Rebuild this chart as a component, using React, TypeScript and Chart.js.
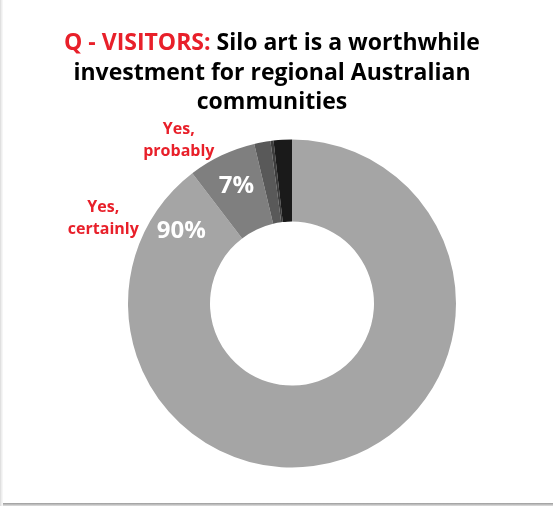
import React, { useEffect, useRef } from "react";
import { Chart, registerables } from "chart.js";

Chart.register(...registerables);

const categories = ["Yes, certainly", "Yes, probably", "Not sure", "No, probably not", "No, certainly not"];
const values = [89.6, 6.7, 1.6, 0.3, 1.8];
const valueLabels = ["90%", "7%", "", "", ""];
const colors = ["#a5a5a5", "#7f7f7f", "#595959", "#3d3d3d", "#1a1a1a"];
const titleRed = "Q - VISITORS:";
const titleLines = [" Silo art is a worthwhile", "investment for regional Australian", "communities"];

const RED = "#e8202a";
const FONT = "'Open Sans', 'Noto Sans', sans-serif";

// label placement relative to arcs: anchor, angle offset (deg, canvas direction), radius as fraction of outer radius
const valueLabelPlace = [
  { anchor: "end", dAngle: -19.5, r: 0.805 },
  { anchor: "mid", dAngle: 0, r: 0.79 },
];
const categoryLabelPlace = [
  { anchor: "end", dAngle: -28.3, r: 1.262 },
  { anchor: "mid", dAngle: -9.4, r: 1.21 },
];

const labelPlugin = {
  id: "customLabels",
  afterDatasetsDraw(chart: any) {
    const ctx = chart.ctx;
    const meta = chart.getDatasetMeta(0);
    const place = (arc: any, p: any) => {
      const base = p.anchor === "end" ? arc.endAngle : (arc.startAngle + arc.endAngle) / 2;
      const a = base + (p.dAngle * Math.PI) / 180;
      const r = arc.outerRadius * p.r;
      return { x: arc.x + r * Math.cos(a), y: arc.y + r * Math.sin(a) };
    };
    ctx.save();
    ctx.textAlign = "center";
    ctx.textBaseline = "middle";
    valueLabelPlace.forEach((p, i) => {
      const arc = meta.data[i];
      if (!arc || !valueLabels[i]) return;
      const pos = place(arc, p);
      ctx.font = `bold 24px ${FONT}`;
      ctx.fillStyle = "#ffffff";
      ctx.fillText(valueLabels[i], pos.x, pos.y);
    });
    categoryLabelPlace.forEach((p, i) => {
      const arc = meta.data[i];
      if (!arc) return;
      const pos = place(arc, p);
      ctx.font = `bold 16px ${FONT}`;
      ctx.fillStyle = RED;
      const parts = categories[i].split(" ");
      const lines = [parts[0], parts.slice(1).join(" ")];
      const lh = 22;
      lines.forEach((ln, k) => {
        ctx.fillText(ln, pos.x, pos.y + (k - (lines.length - 1) / 2) * lh);
      });
    });
    ctx.restore();
  },
};

const titlePlugin = {
  id: "customTitle",
  afterDraw(chart: any) {
    const ctx = chart.ctx;
    ctx.save();
    ctx.font = `bold 23px ${FONT}`;
    ctx.textBaseline = "alphabetic";
    ctx.textAlign = "left";
    const cx = 272;
    const baselines = [50, 79.5, 109];
    const wRed = ctx.measureText(titleRed).width;
    const wBlack = ctx.measureText(titleLines[0]).width;
    let x = cx - (wRed + wBlack) / 2;
    ctx.fillStyle = RED;
    ctx.fillText(titleRed, x, baselines[0]);
    ctx.fillStyle = "#000000";
    ctx.fillText(titleLines[0], x + wRed, baselines[0]);
    ctx.textAlign = "center";
    ctx.fillText(titleLines[1], cx, baselines[1]);
    ctx.fillText(titleLines[2], cx, baselines[2]);
    ctx.restore();
  },
};

export default function App() {
  const ref = useRef<HTMLCanvasElement>(null);
  useEffect(() => {
    if (!ref.current) return;
    const chart = new Chart(ref.current, {
      type: "doughnut",
      data: {
        labels: categories,
        datasets: [
          {
            data: values,
            backgroundColor: colors,
            borderWidth: 0,
          },
        ],
      },
      options: {
        responsive: false,
        animation: false,
        cutout: "50%",
        layout: { padding: { top: 139.5, bottom: 38.5, left: 25, right: 0 } },
        plugins: {
          legend: { display: false },
          title: { display: false },
          tooltip: { enabled: false },
        },
      },
      plugins: [labelPlugin, titlePlugin],
    });
    return () => chart.destroy();
  }, []);
  return (
    <div style={{ position: "fixed", left: 0, top: 0, width: 559, height: 506, background: "#ffffff", overflow: "hidden" }}>
      <div
        style={{
          position: "absolute",
          left: 0,
          top: 0,
          width: 3,
          height: 506,
          background: "linear-gradient(to right, #d9d9d9, #eeeeee, #fafafa)",
        }}
      />
      <div
        style={{
          position: "absolute",
          left: 3,
          top: 503,
          width: 550,
          height: 3,
          background: "linear-gradient(to bottom, #9a9a9a, #bdbdbd, #e0e0e0)",
        }}
      />
      <canvas ref={ref} width={559} height={506} style={{ position: "absolute", left: 0, top: 0 }} />
    </div>
  );
}
